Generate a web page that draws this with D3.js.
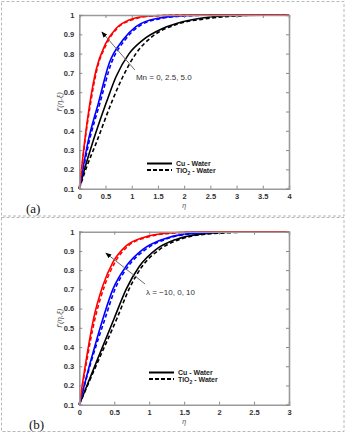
<!DOCTYPE html>
<meta charset="utf-8">
<script src="https://d3js.org/d3.v7.min.js"></script>
<body style="margin:0; background:#fff; font-family: 'Liberation Sans', Arial, sans-serif">
<div id="chart"></div>
</body>
<script>

    // ---- data: [eta, f'] pairs ----
    // panel (a): effect of Mn
    var redA_cu   = [[0,0.1],[0.05,0.22],[0.1,0.34],[0.2,0.54],[0.32,0.715],[0.5,0.85],[0.7,0.93],[0.95,0.974],[1.33,0.995],[2,1],[4,1]];
    var redA_ti   = [[0,0.1],[0.05,0.21],[0.1,0.33],[0.21,0.535],[0.33,0.71],[0.52,0.85],[0.72,0.93],[0.98,0.973],[1.4,0.995],[2.1,1],[4,1]];
    var blueA_cu  = [[0,0.1],[0.08,0.22],[0.16,0.335],[0.37,0.55],[0.57,0.75],[0.83,0.87],[1.08,0.94],[1.5,0.983],[2,0.997],[2.5,1],[4,1]];
    var blueA_ti  = [[0,0.1],[0.09,0.22],[0.18,0.335],[0.4,0.55],[0.61,0.75],[0.87,0.87],[1.13,0.94],[1.56,0.982],[2.1,0.996],[2.7,1],[4,1]];
    var blackA_cu = [[0,0.1],[0.12,0.22],[0.25,0.335],[0.52,0.55],[0.7,0.68],[0.95,0.8],[1.21,0.87],[1.59,0.93],[1.97,0.965],[2.5,0.99],[3,0.998],[4,1]];
    var blackA_ti = [[0,0.1],[0.15,0.22],[0.32,0.335],[0.62,0.55],[0.83,0.68],[1.08,0.8],[1.4,0.89],[1.84,0.95],[2.4,0.98],[3,0.995],[3.3,0.999],[4,1]];

    // panel (b): effect of lambda
    var redB_cu   = [[0,0.1],[0.1,0.336],[0.2,0.54],[0.335,0.717],[0.48,0.84],[0.67,0.926],[0.91,0.969],[1.29,0.993],[1.8,1],[3,1]];
    var redB_ti   = [[0,0.1],[0.11,0.336],[0.22,0.54],[0.36,0.717],[0.51,0.84],[0.7,0.926],[0.95,0.969],[1.35,0.993],[1.9,1],[3,1]];
    var blueB_cu  = [[0,0.1],[0.17,0.336],[0.34,0.55],[0.48,0.7],[0.67,0.82],[0.91,0.908],[1.19,0.96],[1.48,0.986],[2,0.998],[3,1]];
    var blueB_ti  = [[0,0.1],[0.18,0.336],[0.37,0.55],[0.51,0.7],[0.7,0.82],[0.95,0.908],[1.23,0.96],[1.53,0.986],[2.1,0.998],[3,1]];
    var blackB_cu = [[0,0.1],[0.26,0.336],[0.5,0.55],[0.67,0.7],[0.86,0.82],[1.1,0.908],[1.385,0.96],[1.8,0.99],[2.3,0.999],[3,1]];
    var blackB_ti = [[0,0.1],[0.28,0.336],[0.54,0.55],[0.71,0.7],[0.9,0.82],[1.15,0.908],[1.44,0.96],[1.9,0.99],[2.6,0.999],[3,1]];

    var yTicks = [0.1,0.2,0.3,0.4,0.5,0.6,0.7,0.8,0.9,1];
    var xTicksA = [0,0.5,1,1.5,2,2.5,3,3.5,4];
    var xTicksB = [0,0.5,1,1.5,2,2.5,3];
    var legendLabels = ["Cu - Water", "TiO2 - Water"];

    var svg = d3.select("#chart").append("svg")
        .attr("width", 346)
        .attr("height", 433);

    // dashed frames around each sub-figure
    svg.append("rect").attr("x", 1.5).attr("y", 1.5).attr("width", 342.5).attr("height", 214.5)
        .attr("fill", "none").attr("stroke", "#b8b8b8").attr("stroke-dasharray", "3,2");
    svg.append("rect").attr("x", 1.5).attr("y", 217.5).attr("width", 342.5).attr("height", 214)
        .attr("fill", "none").attr("stroke", "#b8b8b8").attr("stroke-dasharray", "3,2");

    function drawPanel(opt) {
        var g = svg.append("g");
        var x = d3.scaleLinear().domain([0, opt.xmax]).range([79.3, 289]);
        var y = d3.scaleLinear().domain([0.1, 1]).range([opt.bottom, opt.top]);

        var line = d3.line()
            .x(function (d) { return x(d[0]); })
            .y(function (d) { return y(d[1]); })
            .curve(d3.curveMonotoneX);

        // curves: black, blue, red (red on top)
        opt.series.forEach(function (s) {
            g.append("path")
                .datum(s.data)
                .attr("fill", "none")
                .attr("stroke", s.color)
                .attr("stroke-width", 1.6)
                .attr("stroke-dasharray", s.dash ? "4,2.5" : null)
                .attr("d", line);
        });

        // axes with inward ticks
        var fmt = function (d) { return d3.format("")(d); };
        var ax = g.append("g");
        ax.append("g").attr("transform", "translate(0," + opt.bottom + ")")
            .call(d3.axisBottom(x).tickValues(opt.xticks).tickSize(-3).tickPadding(4.5).tickFormat(fmt));
        ax.append("g").attr("transform", "translate(0," + opt.top + ")")
            .call(d3.axisTop(x).tickValues(opt.xticks).tickSize(-3).tickFormat(""));
        ax.append("g").attr("transform", "translate(79.3,0)")
            .call(d3.axisLeft(y).tickValues(yTicks).tickSize(-3).tickPadding(5).tickFormat(fmt));
        ax.append("g").attr("transform", "translate(289,0)")
            .call(d3.axisRight(y).tickValues(yTicks).tickSize(-3).tickFormat(""));
        ax.selectAll(".domain").attr("stroke", "#9a9a9a").attr("stroke-width", 1.6);
        ax.selectAll(".tick line").attr("stroke", "#8a8a8a");
        ax.selectAll(".tick text")
            .attr("fill", "#333")
            .attr("font-size", "7.5px")
            .attr("font-weight", "bold")
            .attr("font-family", "'Liberation Sans', Arial, sans-serif");

        // axis titles
        g.append("text")
            .attr("x", (x(0) + x(opt.xmax)) / 2)
            .attr("y", opt.bottom + 19.5)
            .attr("text-anchor", "middle")
            .attr("font-size", "7px")
            .attr("font-style", "italic")
            .attr("fill", "#555")
            .text("η");
        g.append("text")
            .attr("transform", "translate(62," + ((opt.top + opt.bottom) / 2) + ") rotate(-90)")
            .attr("text-anchor", "middle")
            .attr("font-size", "8px")
            .attr("font-style", "italic")
            .attr("fill", "#555")
            .text("f′(η,ξ)");

        // arrow annotation
        var a = opt.arrow;
        g.append("line")
            .attr("x1", x(a.from[0])).attr("y1", y(a.from[1]))
            .attr("x2", x(a.to[0])).attr("y2", y(a.to[1]))
            .attr("stroke", "#6a6a6a").attr("stroke-width", 1)
            .attr("marker-end", "url(#head)");
        g.append("text")
            .attr("x", x(a.text[0])).attr("y", y(a.text[1]))
            .attr("font-size", "8px")
            .attr("fill", "#333")
            .text(a.label);

        // legend
        var lg = g.append("g").attr("transform", "translate(" + opt.legend[0] + "," + opt.legend[1] + ")");
        [false, true].forEach(function (dash, i) {
            lg.append("line")
                .attr("x1", 0).attr("x2", 25)
                .attr("y1", i * 6.5).attr("y2", i * 6.5)
                .attr("stroke", "#000").attr("stroke-width", 2)
                .attr("stroke-dasharray", dash ? "4,2" : null);
        });
        lg.append("text").attr("x", 29).attr("y", 2.5)
            .attr("font-size", "7px").attr("font-weight", "bold").attr("fill", "#222")
            .text(legendLabels[0]);
        var t2 = lg.append("text").attr("x", 29).attr("y", 9)
            .attr("font-size", "7px").attr("font-weight", "bold").attr("fill", "#222");
        t2.append("tspan").text("TiO");
        t2.append("tspan").attr("font-size", "5px").attr("dy", 2).text("2");
        t2.append("tspan").attr("dy", -2).text(" - Water");

        // panel tag
        svg.append("text")
            .attr("x", opt.tag[0]).attr("y", opt.tag[1])
            .attr("font-family", "'Liberation Serif', 'Times New Roman', serif")
            .attr("font-size", "13px")
            .attr("fill", "#111")
            .text(opt.tagText);
    }

    // arrow head marker
    svg.append("defs").append("marker")
        .attr("id", "head")
        .attr("viewBox", "0 0 10 10")
        .attr("refX", 9).attr("refY", 5)
        .attr("markerWidth", 6).attr("markerHeight", 6)
        .attr("orient", "auto")
        .append("path").attr("d", "M0,1 L10,5 L0,9 Z").attr("fill", "#000");

    drawPanel({
        xmax: 4, top: 15, bottom: 188.7, xticks: xTicksA,
        series: [
            {data: blackA_cu, color: "#000", dash: false},
            {data: blackA_ti, color: "#000", dash: true},
            {data: blueA_cu, color: "#0000ff", dash: false},
            {data: blueA_ti, color: "#0000ff", dash: true},
            {data: redA_ti, color: "#ff0000", dash: true},
            {data: redA_cu, color: "#ff0000", dash: false}
        ],
        arrow: {from: [1.06, 0.715], to: [0.43, 0.912], text: [1.08, 0.665], label: "Mn = 0, 2.5, 5.0"},
        legend: [147, 163.5],
        tag: [26, 213], tagText: "(a)"
    });

    drawPanel({
        xmax: 3, top: 231.7, bottom: 404.7, xticks: xTicksB,
        series: [
            {data: blackB_cu, color: "#000", dash: false},
            {data: blackB_ti, color: "#000", dash: true},
            {data: blueB_cu, color: "#0000ff", dash: false},
            {data: blueB_ti, color: "#0000ff", dash: true},
            {data: redB_ti, color: "#ff0000", dash: true},
            {data: redB_cu, color: "#ff0000", dash: false}
        ],
        arrow: {from: [0.94, 0.728], to: [0.38, 0.889], text: [0.955, 0.67], label: "λ = −10, 0, 10"},
        legend: [149, 372.5],
        tag: [29, 429], tagText: "(b)"
    });

</script>
